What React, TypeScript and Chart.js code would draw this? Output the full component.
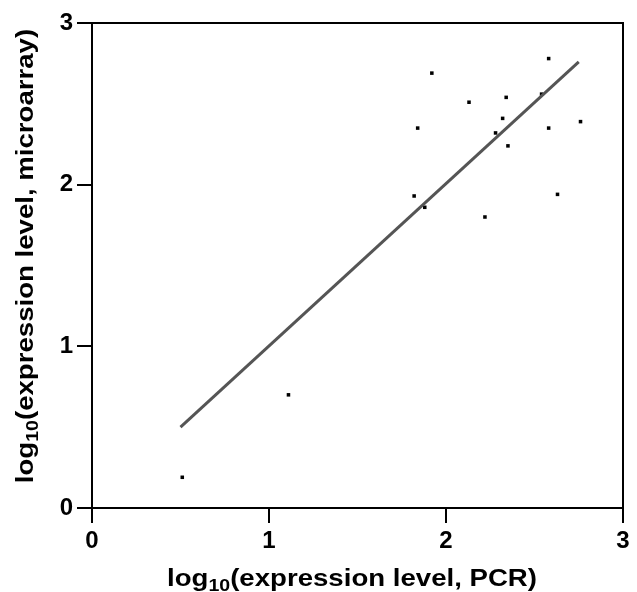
import React, { useEffect, useRef } from "react";
import { Chart, registerables } from "chart.js";

Chart.register(...registerables);

const pcrValues = [0.51, 1.11, 1.82, 1.84, 1.88, 1.92, 2.13, 2.22, 2.28, 2.32, 2.34, 2.35, 2.54, 2.58, 2.58, 2.63, 2.76];
const arrayValues = [0.19, 0.70, 1.93, 2.35, 1.86, 2.69, 2.51, 1.80, 2.32, 2.41, 2.54, 2.24, 2.56, 2.78, 2.35, 1.94, 2.39];
const fitX = [0.5, 2.75];
const fitY = [0.5, 2.76];
const tickValues = [0, 1, 2, 3];
const xTitleParts = ["log", "10", "(expression level, PCR)"];
const yTitleParts = ["log", "10", "(expression level, microarray)"];

const FAMILY = "'Liberation Sans', Arial, sans-serif";

function drawTitle(ctx: CanvasRenderingContext2D, parts: string[], cx: number, baseY: number, rotate: boolean) {
  const mainFont = `bold 24px ${FAMILY}`;
  const subFont = `bold 17px ${FAMILY}`;
  const stretch = 1.15;
  ctx.save();
  ctx.font = mainFont;
  const w0 = ctx.measureText(parts[0]).width;
  const w2 = ctx.measureText(parts[2]).width;
  ctx.font = subFont;
  const w1 = ctx.measureText(parts[1]).width;
  const total = (w0 + w1 + w2) * stretch;
  if (rotate) {
    ctx.translate(baseY, cx);
    ctx.rotate(-Math.PI / 2);
  } else {
    ctx.translate(cx, baseY);
  }
  ctx.scale(stretch, 1);
  ctx.fillStyle = "#000";
  ctx.textBaseline = "alphabetic";
  ctx.textAlign = "left";
  let x = -total / 2 / stretch;
  ctx.font = mainFont;
  ctx.fillText(parts[0], x, 0);
  x += w0;
  ctx.font = subFont;
  ctx.fillText(parts[1], x, 5);
  x += w1;
  ctx.font = mainFont;
  ctx.fillText(parts[2], x, 0);
  ctx.restore();
}

const boxPlugin = {
  id: "boxPlugin",
  afterDraw(chart: any) {
    const { ctx, chartArea } = chart;
    ctx.save();
    ctx.strokeStyle = "#000";
    ctx.lineWidth = 2;
    ctx.beginPath();
    ctx.moveTo(chartArea.left, chartArea.top);
    ctx.lineTo(chartArea.right, chartArea.top);
    ctx.lineTo(chartArea.right, chartArea.bottom);
    ctx.stroke();
    ctx.restore();
    drawTitle(ctx, xTitleParts, 352, 586, false);
    drawTitle(ctx, yTitleParts, 256, 33, true);
  },
};

export default function App() {
  const ref = useRef<HTMLCanvasElement>(null);
  useEffect(() => {
    if (!ref.current) return;
    const font = { family: FAMILY, size: 24, weight: "bold" as const };
    const chart = new Chart(ref.current, {
      type: "scatter",
      data: {
        datasets: [
          {
            type: "line",
            data: fitX.map((x, i) => ({ x, y: fitY[i] })),
            borderColor: "#555555",
            borderWidth: 3,
            pointRadius: 0,
            fill: false,
          },
          {
            type: "scatter",
            data: pcrValues.map((x, i) => ({ x, y: arrayValues[i] })),
            backgroundColor: "#000",
            borderColor: "#000",
            pointStyle: "rect",
            pointRadius: 2.5,
            borderWidth: 0,
          },
        ],
      },
      options: {
        animation: false,
        responsive: true,
        maintainAspectRatio: false,
        layout: { padding: { left: 0, right: 14, top: 23, bottom: 0 } },
        plugins: { legend: { display: false }, tooltip: { enabled: false } },
        scales: {
          x: {
            type: "linear",
            min: 0,
            max: 3,
            afterBuildTicks: (axis: any) => {
              axis.ticks = tickValues.map((v) => ({ value: v }));
            },
            afterFit: (axis: any) => {
              axis.height = 84;
            },
            border: { display: true, color: "#000", width: 2 },
            grid: { display: true, drawOnChartArea: false, drawTicks: true, tickLength: 15, color: "#000", lineWidth: 2 },
            ticks: { color: "#000", font, padding: 4, maxRotation: 0 },
          },
          y: {
            type: "linear",
            min: 0,
            max: 3,
            afterBuildTicks: (axis: any) => {
              axis.ticks = tickValues.map((v) => ({ value: v }));
            },
            afterFit: (axis: any) => {
              axis.width = 92;
            },
            border: { display: true, color: "#000", width: 2 },
            grid: { display: true, drawOnChartArea: false, drawTicks: true, tickLength: 15, color: "#000", lineWidth: 2 },
            ticks: { color: "#000", font, padding: 4 },
          },
        },
      },
      plugins: [boxPlugin],
    });
    return () => chart.destroy();
  }, []);
  return (
    <div style={{ position: "fixed", left: 0, top: 0, width: 637, height: 592 }}>
      <canvas ref={ref} />
    </div>
  );
}
